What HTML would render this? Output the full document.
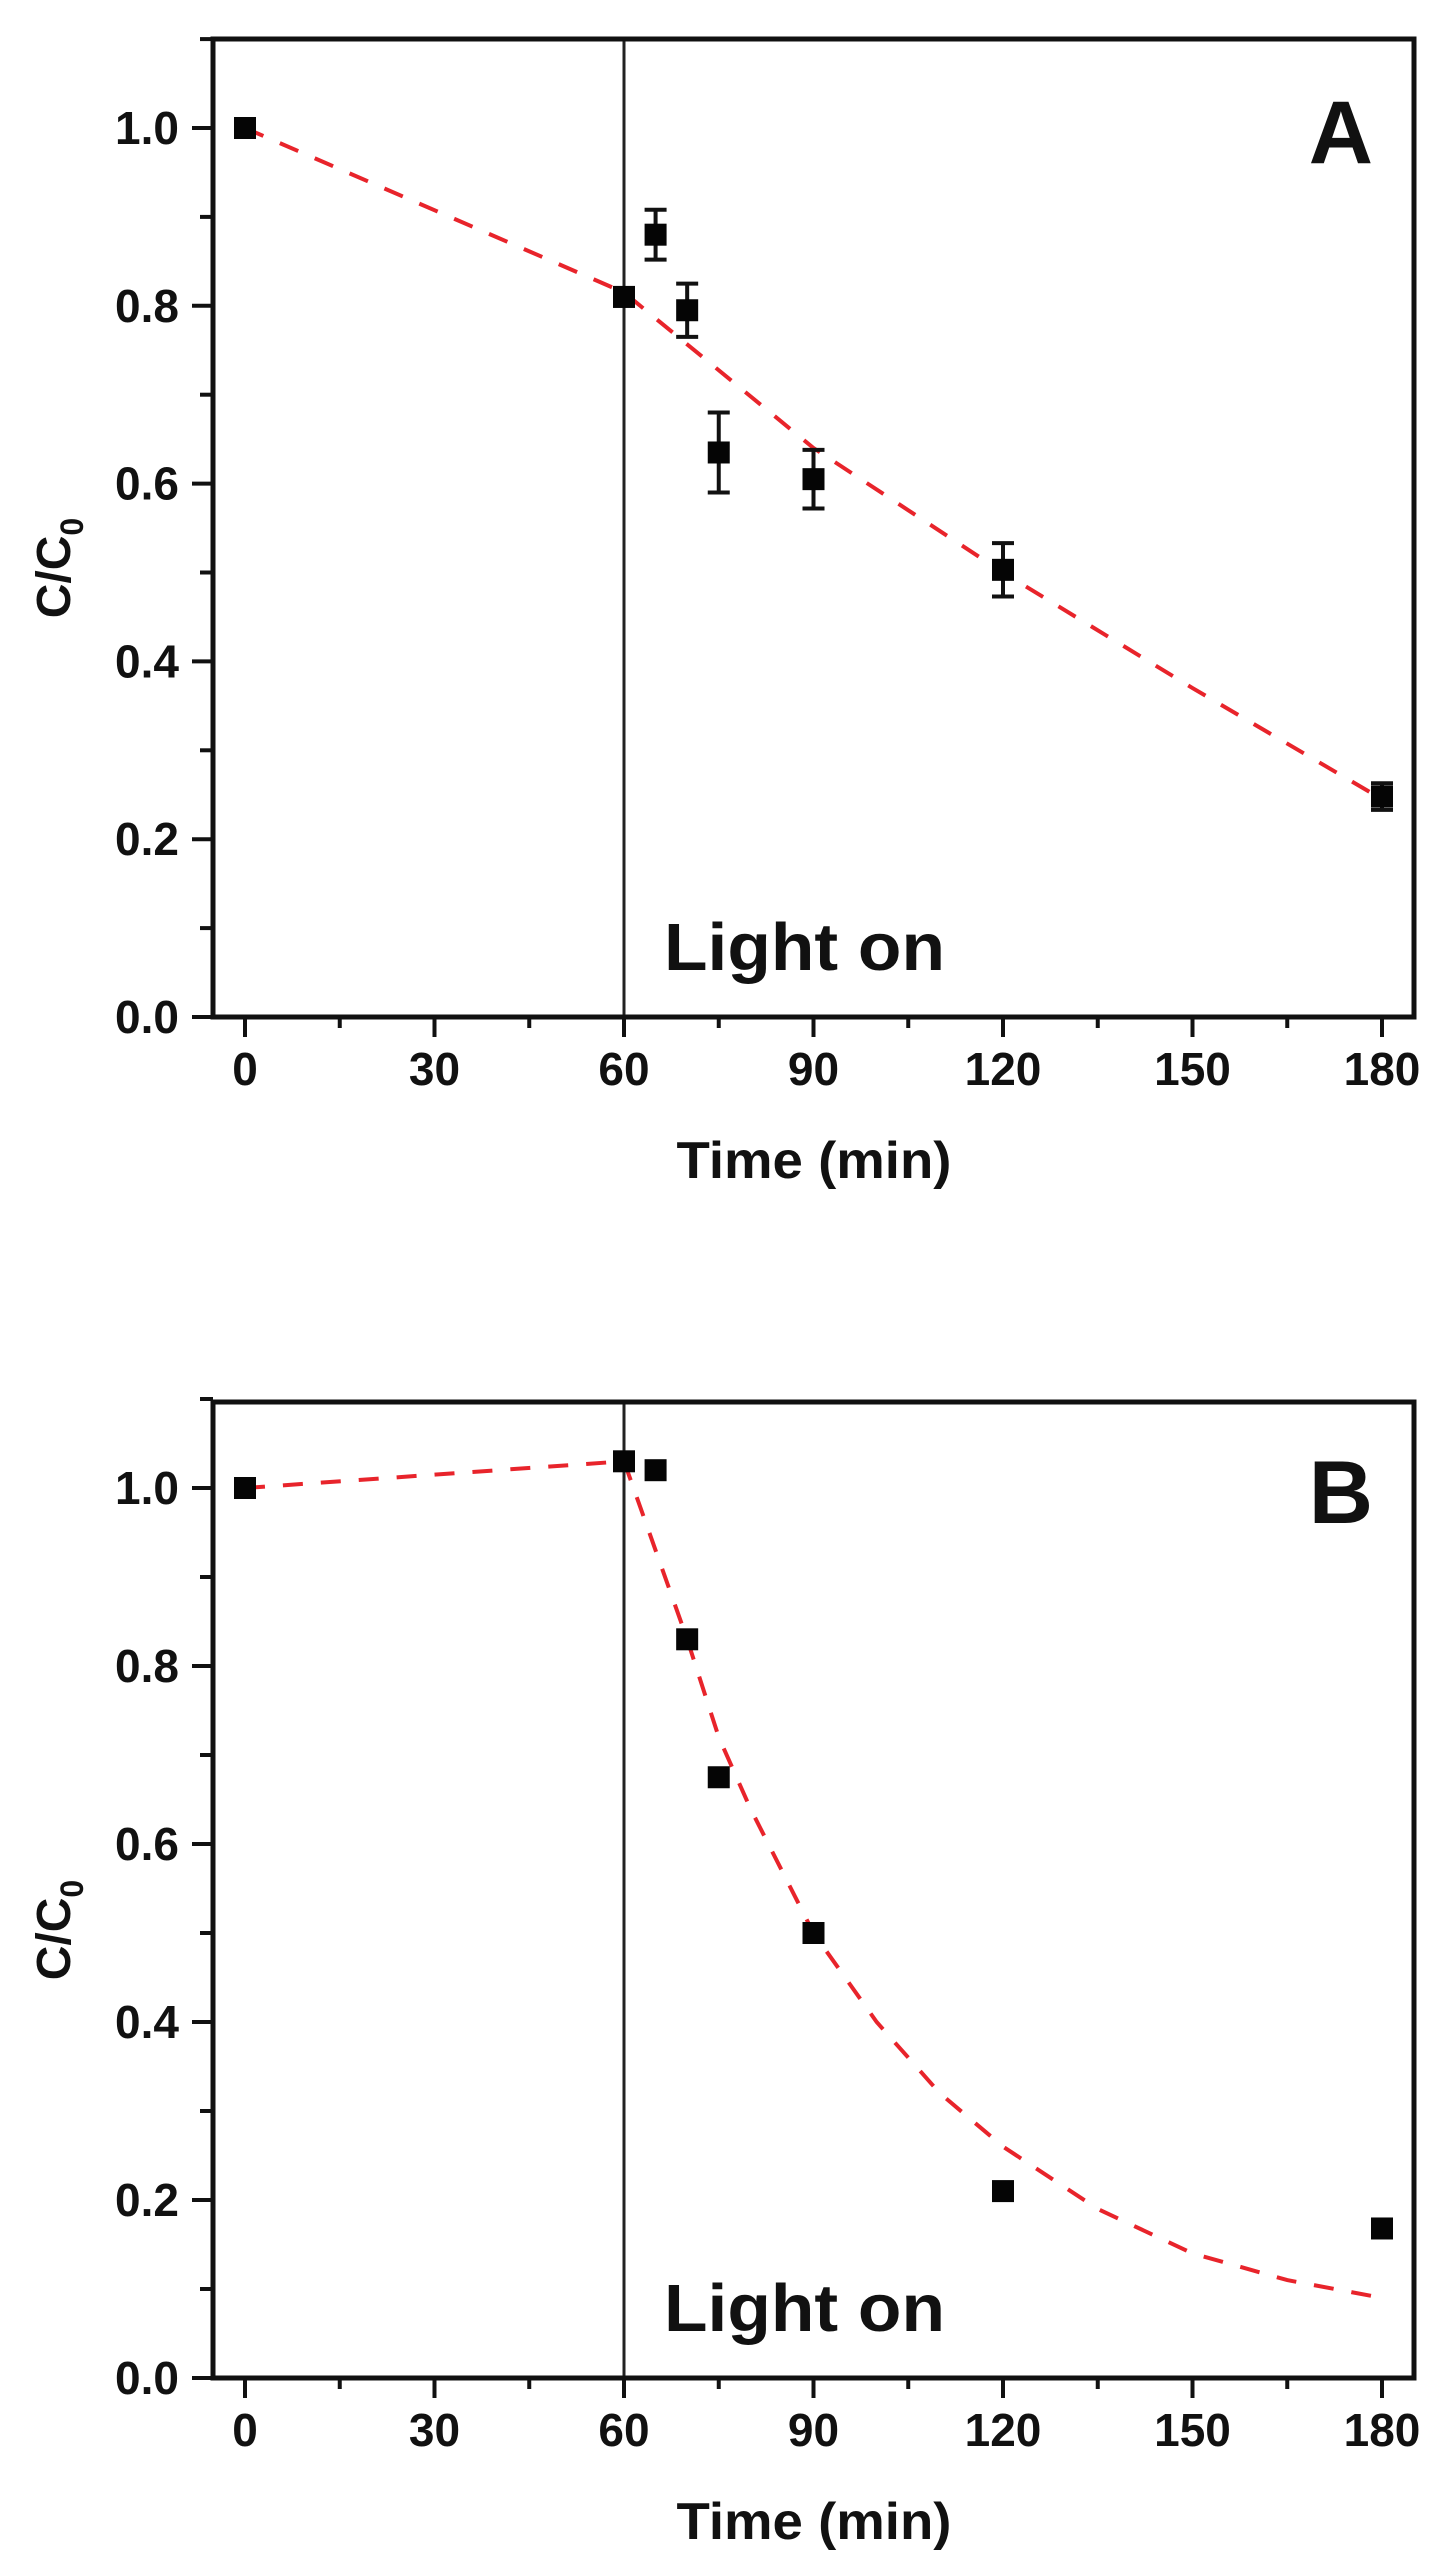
<!DOCTYPE html>
<html><head><meta charset="utf-8">
<style>
html,body{margin:0;padding:0;background:#fff;overflow:hidden;}
svg{display:block;}
text{font-family:"Liberation Sans",Arial,sans-serif;fill:#111;}
</style></head>
<body>
<svg id="fig" width="1446" height="2571" viewBox="0 0 1446 2571" xmlns="http://www.w3.org/2000/svg"></svg>
<script>
const xTicks = [0, 30, 60, 90, 120, 150, 180];
const yTicks = [0.0, 0.2, 0.4, 0.6, 0.8, 1.0];
const timesA = [0, 60, 65, 70, 75, 90, 120, 180];
const valuesA = [1.0, 0.81, 0.88, 0.795, 0.635, 0.605, 0.503, 0.248];
const errorsA = [0.0, 0.01, 0.028, 0.03, 0.045, 0.033, 0.03, 0.015];
const fitTimesA = [0, 60, 90, 120, 150, 180];
const fitValuesA = [1.0, 0.815, 0.64, 0.5, 0.37, 0.245];
const timesB = [0, 60, 65, 70, 75, 90, 120, 180];
const valuesB = [1.0, 1.03, 1.02, 0.83, 0.675, 0.5, 0.21, 0.168];
const fitTimesB = [0, 60, 65, 70, 75, 80, 90, 100, 110, 120, 135, 150, 165, 180];
const fitValuesB = [1.0, 1.03, 0.93, 0.83, 0.72, 0.64, 0.5, 0.4, 0.32, 0.26, 0.19, 0.14, 0.11, 0.09];
const lightOn = 60;

const NS = "http://www.w3.org/2000/svg";
const svg = document.getElementById('fig');
function mk(tag, attrs, parent){
  const e = document.createElementNS(NS, tag);
  for (const k in attrs) e.setAttribute(k, attrs[k]);
  (parent||svg).appendChild(e);
  return e;
}

function panel(cfg){
  const g = mk('g', {});
  
  
  const L=213, R=1414, T=cfg.top, B=cfg.bottom;
  const x0=245, x180=1382;
  const X = t => x0 + (x180-x0)*t/180;
  const Y = v => B - (B - cfg.y1)*v;

  const vl = mk('line', {x1:X(lightOn), x2:X(lightOn), y1:T, y2:B, stroke:'#222', 'stroke-width':3}, g);
  
  

  for (let k=0; k<=11; k++){
    const v = k/10;
    const major = k%2===0;
    const tk = mk('line', {x1:L, x2:L-(major?21:13), y1:Y(v), y2:Y(v), stroke:'#111', 'stroke-width':4}, g);
    
    
  }
  yTicks.forEach(v=>{
    const t = mk('text', {x:179, y:Y(v)+16, 'text-anchor':'end', 'font-size':46, 'font-weight':'bold'}, g);
    t.textContent = v.toFixed(1);
    
    
  });
  for (let t=0; t<=180; t+=15){
    const major = t%30===0;
    const tk = mk('line', {x1:X(t), x2:X(t), y1:B, y2:B+(major?20:11), stroke:'#111', 'stroke-width':4}, g);
    
    
  }
  xTicks.forEach(v=>{
    const t = mk('text', {x:X(v), y:B+68, 'text-anchor':'middle', 'font-size':46, 'font-weight':'bold'}, g);
    t.textContent = v;
    
    
  });

  const pts = cfg.fitT.map((t,i)=>X(t)+','+Y(cfg.fitV[i])).join(' ');
  const fit = mk('polyline', {points:pts, fill:'none', stroke:'#e8242b', 'stroke-width':4, 'stroke-dasharray':'20 18'}, g);
  
  

  cfg.t.forEach((t,i)=>{
    const cx=X(t), cy=Y(cfg.v[i]);
    if (cfg.e && cfg.e[i]>0){
      const e=cfg.e[i];
      const eb = mk('path', {d:`M${cx},${Y(cfg.v[i]+e)}V${Y(cfg.v[i]-e)}M${cx-11},${Y(cfg.v[i]+e)}H${cx+11}M${cx-11},${Y(cfg.v[i]-e)}H${cx+11}`, stroke:'#111', 'stroke-width':4, fill:'none'}, g);
      
      
    }
    const p = mk('rect', {x:cx-11, y:cy-11, width:22, height:22, fill:'#050505'}, g);
    
    
  });

  const fr = mk('rect', {x:L, y:T, width:R-L, height:B-T, fill:'none', stroke:'#111', 'stroke-width':5}, g);
  
  

  const lab = mk('text', {x:1373, y:cfg.y1+35, 'text-anchor':'end', 'font-size':89, 'font-weight':'bold'}, g);
  lab.textContent = cfg.letter;
  
  

  const lo = mk('text', {x:664, y:B-47, 'font-size':67, 'font-weight':'bold', textLength:281, lengthAdjust:'spacingAndGlyphs'}, g);
  lo.textContent = 'Light on';
  
  

  const xt = mk('text', {x:814, y:B+161, 'text-anchor':'middle', 'font-size':52, 'font-weight':'bold', textLength:275, lengthAdjust:'spacingAndGlyphs'}, g);
  xt.textContent = 'Time (min)';
  
  

  const yc = (T+B)/2 + 40;
  const yt = mk('text', {x:0, y:0, transform:`translate(70,${yc}) rotate(-90)`, 'text-anchor':'middle', 'font-size':48, 'font-weight':'bold'}, g);
  
  
  yt.appendChild(document.createTextNode('C/C'));
  const sub = mk('tspan', {dy:13, 'font-size':32}, yt);
  sub.textContent = '0';
}

panel({letter:'A', top:39, bottom:1017, y1:128, t:timesA, v:valuesA, e:errorsA, fitT:fitTimesA, fitV:fitValuesA});
panel({letter:'B', top:1402, bottom:2378, y1:1488, t:timesB, v:valuesB, e:null, fitT:fitTimesB, fitV:fitValuesB});
</script>
</body></html>
